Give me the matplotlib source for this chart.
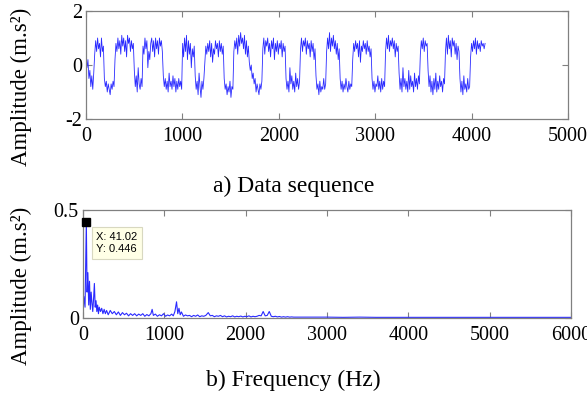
import numpy as np
import matplotlib
matplotlib.use("Agg")
import matplotlib.pyplot as plt

# ---------------- data ----------------
# a) time-domain sequence, one value every ~10 samples
amplitude = [
    0.3, -0.1, 0.2, -0.5, -0.2, -0.8, -0.4, -0.9, -0.3,
    0.4, 0.9, 0.5, 1.0, 0.6, 0.8, 0.3, 1.0, 0.5, 0.7,
    -0.5, -0.8, -0.6, -1.0, -0.7, -0.9, -1.1, -0.7, -0.9, -0.6, -0.8,
    0.2, 0.8, 0.5, 1.0, 0.6, 0.9, 0.4, 1.1, 0.7, 1.0,
    0.5, 0.9, 0.3, 1.1, 0.8, 1.0, 0.5, 0.9, 0.6, 0.8,
    -0.2, -0.8, -0.4, -1.0, -0.1, -0.7, -0.9, -0.5, -0.8,
    0.7, 0.4, 1.0, 0.6, 0.9, -0.1, 0.5, 0.2, 0.8, 1.0, 0.5,
    0.9, 0.3, 1.0, 0.6, 0.9, 0.4, 1.0, 0.7, 0.9, 0.5,
    -0.4, -0.8, -0.5, -0.9, -0.6, -1.0, -0.3, -0.8, -0.6, -0.9,
    -0.4, -0.8, -0.5, -1.0, -0.6, -0.9, -0.5, -0.8, -0.6, -0.9,
    0.8, 0.3, 1.0, 0.5, 1.1, 0.2, 0.9, 0.4, 0.8, -0.1, 0.6, 0.3, 0.7,
    -0.4, -0.9, -0.6, -1.1, -0.3, -0.8, -1.2, -0.6, -0.9, -0.5,
    0.1, 0.7, 0.4, 0.8, 0.5, 0.9, 0.3, 0.8, 0.1, 0.6,
    0.4, 0.9, 0.6, 0.8, 0.3, 0.9, 0.5, 0.8, 0.4, 0.7,
    -0.5, -0.9, -0.7, -1.1, -0.8, -1.0, -0.6, -1.2, -0.8, -0.9,
    0.5, 0.9, 0.6, 1.0, 0.4, 1.1, 0.7, 1.2, 0.8, 1.0, 0.6, 1.1, 0.4, 0.9, 0.3, 0.7,
    0.1, -0.2, 0.0, -0.5, -0.3, -0.7, -0.5, -1.0, -0.7, -0.9, -1.1, -0.7, -0.9, -0.6,
    0.6, 1.0, 0.4, 0.9, 0.7, 1.0, 0.5, 0.8, 0.3, 0.9, 0.6, 1.0,
    0.2, 0.8, 0.5, 0.9, 0.4, 0.8, 0.6, 0.9, 0.3, 0.8, 0.5, 0.7,
    -0.5, -0.9, -0.6, -1.0, -0.1, -0.7, -0.4, -0.9, -0.6, -1.0, -0.3, -0.8, -0.5, -0.9, -0.6,
    0.6, 1.0, 0.5, 0.9, 0.7, 1.0, 0.4, 0.9, 0.6, 0.8, 0.3, 0.9, 0.5, 0.8, 0.2, 0.6,
    -0.4, -0.9, -0.7, -1.1, -0.6, -1.0, -0.8, -0.9, -0.5, -0.9, -0.7,
    0.5, 1.0, 0.6, 1.2, 0.5, 1.0, 0.7, 1.1, 0.6, 0.9, 0.4, 0.8, 0.2, 0.6,
    -0.5, -0.9, -0.6, -1.0, -0.7, -0.9, -0.5, -0.8, -1.0, -0.6, -0.9, -0.7, -0.8,
    0.2, 0.8, 0.5, 0.9, 0.6, 0.8, 0.3, 0.9, 0.1, 0.7,
    0.5, 0.9, 0.6, 0.8, 0.4, 0.9, 0.5, 0.7, 0.3, 0.6,
    -0.5, -0.9, -0.6, -1.0, -0.7, -0.8, -0.4, -0.9, -0.6, -1.0, -0.5, -0.9, -0.6, -0.8,
    0.5, 1.0, 0.6, 1.1, 0.5, 0.9, 0.7, 1.0, 0.6, 0.9, 0.3, 0.8, 0.5, 0.7,
    -0.3, -0.9, -0.5, -1.0, -0.1, -0.8, -0.5, -0.9, -0.6, -1.0, -0.2,
    -0.9, -0.4, -0.8, -0.6, -1.0, -0.3, -0.8, -0.5, -0.9, -0.4, -0.7,
    0.4, 0.9, 0.6, 1.0, 0.5, 0.9, 0.7, 0.8,
    -0.2, -0.8, -0.4, -1.0, -0.6, -1.1, -0.5, -0.9, -0.3,
    -1.0, -0.6, -0.9, -0.4, -0.8, -0.6, -1.0, -0.5, -0.7,
    0.5, 1.0, 0.4, 1.1, 0.6, 0.9, 0.3, 1.0, 0.7, 0.9, 0.4, 0.8, 0.2, 0.7, 0.5,
    -0.5, -1.0, -0.6, -1.1, -0.4, -0.9, -0.7, -1.0, -0.5, -0.9, -0.8,
    0.3, 0.8, 0.5, 0.9, 0.6, 1.0, 0.4, 0.9, 0.6, 0.8, 0.5, 0.9, 0.7, 0.8, 0.6, 0.8,
]
last_sample = 4140

# b) spectrum (frequency in Hz, amplitude)
freq_hz = [
    0, 10, 25, 41, 50, 60, 70, 80, 90, 100,
    110, 120, 130, 140, 150, 160, 170, 180, 190, 200,
    215, 230, 245, 260, 275, 290, 310, 335, 360, 385,
    410, 435, 460, 485, 510, 535, 560, 585, 610, 635,
    660, 685, 710, 735, 760, 785, 810, 835, 850, 865,
    890, 915, 940, 965, 990, 1015, 1040, 1065, 1090, 1110,
    1130, 1150, 1165, 1180, 1195, 1210, 1235, 1260, 1285, 1310,
    1335, 1360, 1385, 1410, 1435, 1460, 1485, 1510, 1540, 1565,
    1590, 1615, 1640, 1665, 1690, 1715, 1740, 1765, 1790, 1815,
    1840, 1865, 1890, 1915, 1940, 1965, 1990, 2015, 2040, 2065,
    2090, 2115, 2140, 2165, 2190, 2215, 2240, 2265, 2290, 2315,
    2340, 2365, 2390, 2415, 2440, 2465, 2490, 2515, 2540, 2565,
    2590, 2800, 3000, 3200, 3400, 3600, 3800, 4000, 4200, 4400,
    4600, 4800, 5000, 5200, 5400, 5600, 5800, 6000,
]
spectrum = [
    0.06, 0.10, 0.05, 0.446, 0.12, 0.21, 0.06, 0.17, 0.04, 0.12,
    0.07, 0.03, 0.09, 0.16, 0.05, 0.08, 0.03, 0.06, 0.02, 0.05,
    0.03, 0.045, 0.02, 0.04, 0.02, 0.035, 0.015, 0.035, 0.02, 0.03,
    0.015, 0.028, 0.012, 0.025, 0.015, 0.022, 0.01, 0.02, 0.012, 0.02,
    0.01, 0.018, 0.012, 0.02, 0.008, 0.016, 0.01, 0.02, 0.04, 0.012,
    0.018, 0.008, 0.015, 0.01, 0.02, 0.008, 0.014, 0.01, 0.018, 0.01,
    0.03, 0.075, 0.02, 0.045, 0.015, 0.028, 0.008, 0.014, 0.01, 0.012,
    0.006, 0.012, 0.008, 0.014, 0.006, 0.01, 0.008, 0.012, 0.025, 0.01,
    0.012, 0.006, 0.01, 0.008, 0.012, 0.006, 0.01, 0.005, 0.008, 0.006,
    0.01, 0.005, 0.008, 0.006, 0.009, 0.005, 0.008, 0.006, 0.01, 0.005,
    0.008, 0.006, 0.008, 0.012, 0.01, 0.03, 0.01, 0.012, 0.03, 0.008,
    0.006, 0.008, 0.005, 0.007, 0.004, 0.006, 0.004, 0.006, 0.004, 0.005,
    0.004, 0.004, 0.004, 0.003, 0.004, 0.003, 0.003, 0.003, 0.003, 0.003,
    0.003, 0.003, 0.003, 0.003, 0.003, 0.003, 0.003, 0.003,
]

peak_x, peak_y = 41.02, 0.446

# ---------------- drawing ----------------
plt.rcParams['font.family'] = ['Liberation Serif', 'DejaVu Serif']
plt.rcParams['axes.unicode_minus'] = False
W, H = 587, 396
fig = plt.figure(figsize=(W / 100, H / 100), dpi=100)

axcol = '#808080'
line_col = '#2a2aff'

def style(ax):
    for s in ax.spines.values():
        s.set_color(axcol)
        s.set_linewidth(0.9)
    ax.tick_params(direction='in', length=4, width=0.8, color=axcol,
                   top=True, right=True, labelsize=14.5, labelcolor='black')
    ax.tick_params(axis='x', pad=6)
    ax.tick_params(axis='y', pad=3)

# top
ax1 = fig.add_axes([86 / W, 1 - 119 / H, 482 / W, 108 / H])
n = len(amplitude)
samples = np.linspace(0, last_sample, n)
ax1.plot(samples, amplitude, color=line_col, lw=0.6)
ax1.set_xlim(0, 5000)
ax1.set_ylim(-2, 2)
ax1.set_xticks([0, 1000, 2000, 3000, 4000, 5000])
ax1.set_yticks([-2, 0, 2])
style(ax1)
ax1.set_ylabel('Amplitude (m.s²)', fontsize=16.5)
ax1.yaxis.set_label_coords(-0.112, 0.30)
fig.text(0.5, 1 - 186 / H, 'a) Data sequence', ha='center', va='center',
         fontsize=17)

# bottom
ax2 = fig.add_axes([83 / W, 1 - 318 / H, 488 / W, 108 / H])
ax2.plot(freq_hz, spectrum, color=line_col, lw=0.8)
ax2.set_xlim(0, 6000)
ax2.set_ylim(0, 0.5)
ax2.set_xticks([0, 1000, 2000, 3000, 4000, 5000, 6000])
ax2.set_yticks([0, 0.5])
ax2.set_yticklabels(['0', '0.5'])
style(ax2)
ax2.set_ylabel('Amplitude (m.s²)', fontsize=16.5)
ax2.yaxis.set_label_coords(-0.1045, 0.30)
fig.text(0.5, 1 - 380 / H, 'b) Frequency (Hz)', ha='center', va='center',
         fontsize=17)

ax2.plot([peak_x], [peak_y], marker='s', ms=6, color='black', mec='black',
         clip_on=False, zorder=5)
ax2.annotate('X: %.2f\nY: %.3f' % (peak_x, peak_y), xy=(peak_x, peak_y),
             xytext=(160, 0.40), textcoords='data', ha='left', va='top',
             fontsize=8, family=['Liberation Sans', 'DejaVu Sans'],
             linespacing=1.35,
             bbox=dict(boxstyle='square,pad=0.4', fc='#ffffe6', ec='#d8d8c0',
                       lw=0.8), zorder=6)

fig.savefig('out.png', dpi=100)
